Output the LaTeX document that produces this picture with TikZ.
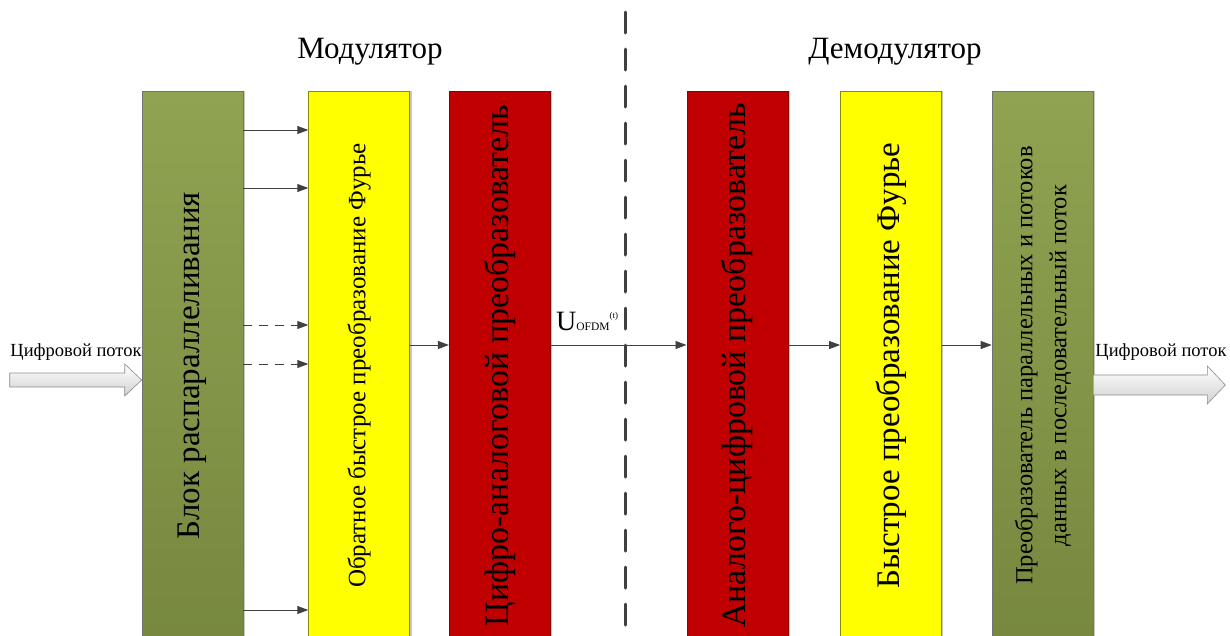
\documentclass[tikz,border=0pt]{standalone}
\usepackage{fontspec}
\setmainfont{Liberation Serif}
\usepackage{graphicx}
\usetikzlibrary{arrows.meta,positioning,shadows}

\definecolor{greentop}{HTML}{8FA352}
\definecolor{greenbot}{HTML}{77883F}
\definecolor{blockred}{HTML}{C00000}
\definecolor{blockyellow}{HTML}{FFFF00}
\definecolor{linegray}{HTML}{404040}

\begin{document}
\begin{tikzpicture}[x=1pt, y=-1pt, node distance=50pt, >={Triangle[length=11pt,width=8pt]},
    box/.style={rectangle, minimum width=101pt, minimum height=549pt, inner sep=0pt, line width=0.6pt,
        general shadow={fill=black!22, shadow xshift=2pt, shadow yshift=0pt}},
    greenbox/.style={box, draw=black!55, top color=greentop, bottom color=greenbot},
    redbox/.style={box, draw=blockred!75!black, fill=blockred},
    yellowbox/.style={box, draw=blockyellow!55!black, fill=blockyellow},
    flow/.style={->, draw=linegray, line width=0.9pt},
    dflow/.style={flow, dash pattern=on 9pt off 7pt},
    blockarrow/.style={draw=black!45, line width=0.6pt, top color=white, bottom color=black!18},
    title/.style={font=\fontsize{31}{36}\selectfont},
    streamlabel/.style={font=\fontsize{18.5}{22}\selectfont}]

    \useasboundingbox (0,0) rectangle (1230,635);

    % modulator
    \node[greenbox, font=\fontsize{33}{38}\selectfont] (split) at (192.5,365.5) {\rotatebox{90}{Блок распараллеливания}};
    \node[yellowbox, right=65pt of split, font=\fontsize{25}{29}\selectfont] (ifft) {\rotatebox{90}{Обратное быстрое преобразование Фурье}};
    \node[redbox, right=39pt of ifft, font=\fontsize{34}{38}\selectfont] (dac) {\rotatebox{90}{Цифро-аналоговой преобразователь}};

    % demodulator
    \node[redbox, right=136pt of dac, font=\fontsize{34}{38}\selectfont] (adc) {\rotatebox{90}{Аналого-цифровой преобразователь}};
    \node[yellowbox, right=52pt of adc, font=\fontsize{33}{38}\selectfont] (fft) {\rotatebox{90}{Быстрое преобразование Фурье}};
    \node[greenbox, right=50pt of fft, font=\fontsize{24.5}{34}\selectfont] (merge) {\rotatebox{90}{\begin{tabular}{@{}c@{}}Преобразователь параллельных и потоков\\данных в последовательный поток\end{tabular}}};

    \node[title] (modtitle) at (370,52) {Модулятор};
    \node[title] (demodtitle) at (895,52) {Демодулятор};

    % divider
    \coordinate (divtop) at (625,12);
    \coordinate (divbot) at (625,640);
    \draw[linegray, line width=3pt, line cap=round, dash pattern=on 21pt off 16pt] (divtop) -- (divbot);

    % parallel streams
    \draw[flow] (split.east |- 0,130) -- (ifft.west |- 0,130);
    \draw[flow] (split.east |- 0,188) -- (ifft.west |- 0,188);
    \draw[dflow] (split.east |- 0,325) -- (ifft.west |- 0,325);
    \draw[dflow] (split.east |- 0,364) -- (ifft.west |- 0,364);
    \draw[flow] (split.east |- 0,610) -- (ifft.west |- 0,610);

    \draw[flow] (ifft.east |- 0,345) -- (dac.west |- 0,345);
    \draw[flow] (dac.east |- 0,345) -- (adc.west |- 0,345);
    \draw[flow] (adc.east |- 0,345) -- (fft.west |- 0,345);
    \draw[flow] (fft.east |- 0,345) -- (merge.west |- 0,345);

    \node[anchor=south west, inner sep=0pt] (usig) at (556,331) {\fontsize{28}{30}\selectfont U\fontsize{11.5}{12}\selectfont OFDM\raisebox{12pt}{\fontsize{9}{10}\selectfont (t)}};

    % input / output
    \draw[blockarrow] (split.west |- 0,380) -- ++(-17,-16) -- ++(0,9) -- ++(-115,0) -- ++(0,14) -- ++(115,0) -- ++(0,9) -- cycle;
    \draw[blockarrow] (merge.east |- 0,375) -- ++(114,0) -- ++(0,-9) -- ++(18,19) -- ++(-18,19) -- ++(0,-9) -- ++(-114,0) -- cycle;
    \node[streamlabel] (inlabel) at (76,352) {Цифровой поток};
    \node[streamlabel] (outlabel) at (1161,352) {Цифровой поток};
\end{tikzpicture}
\end{document}
